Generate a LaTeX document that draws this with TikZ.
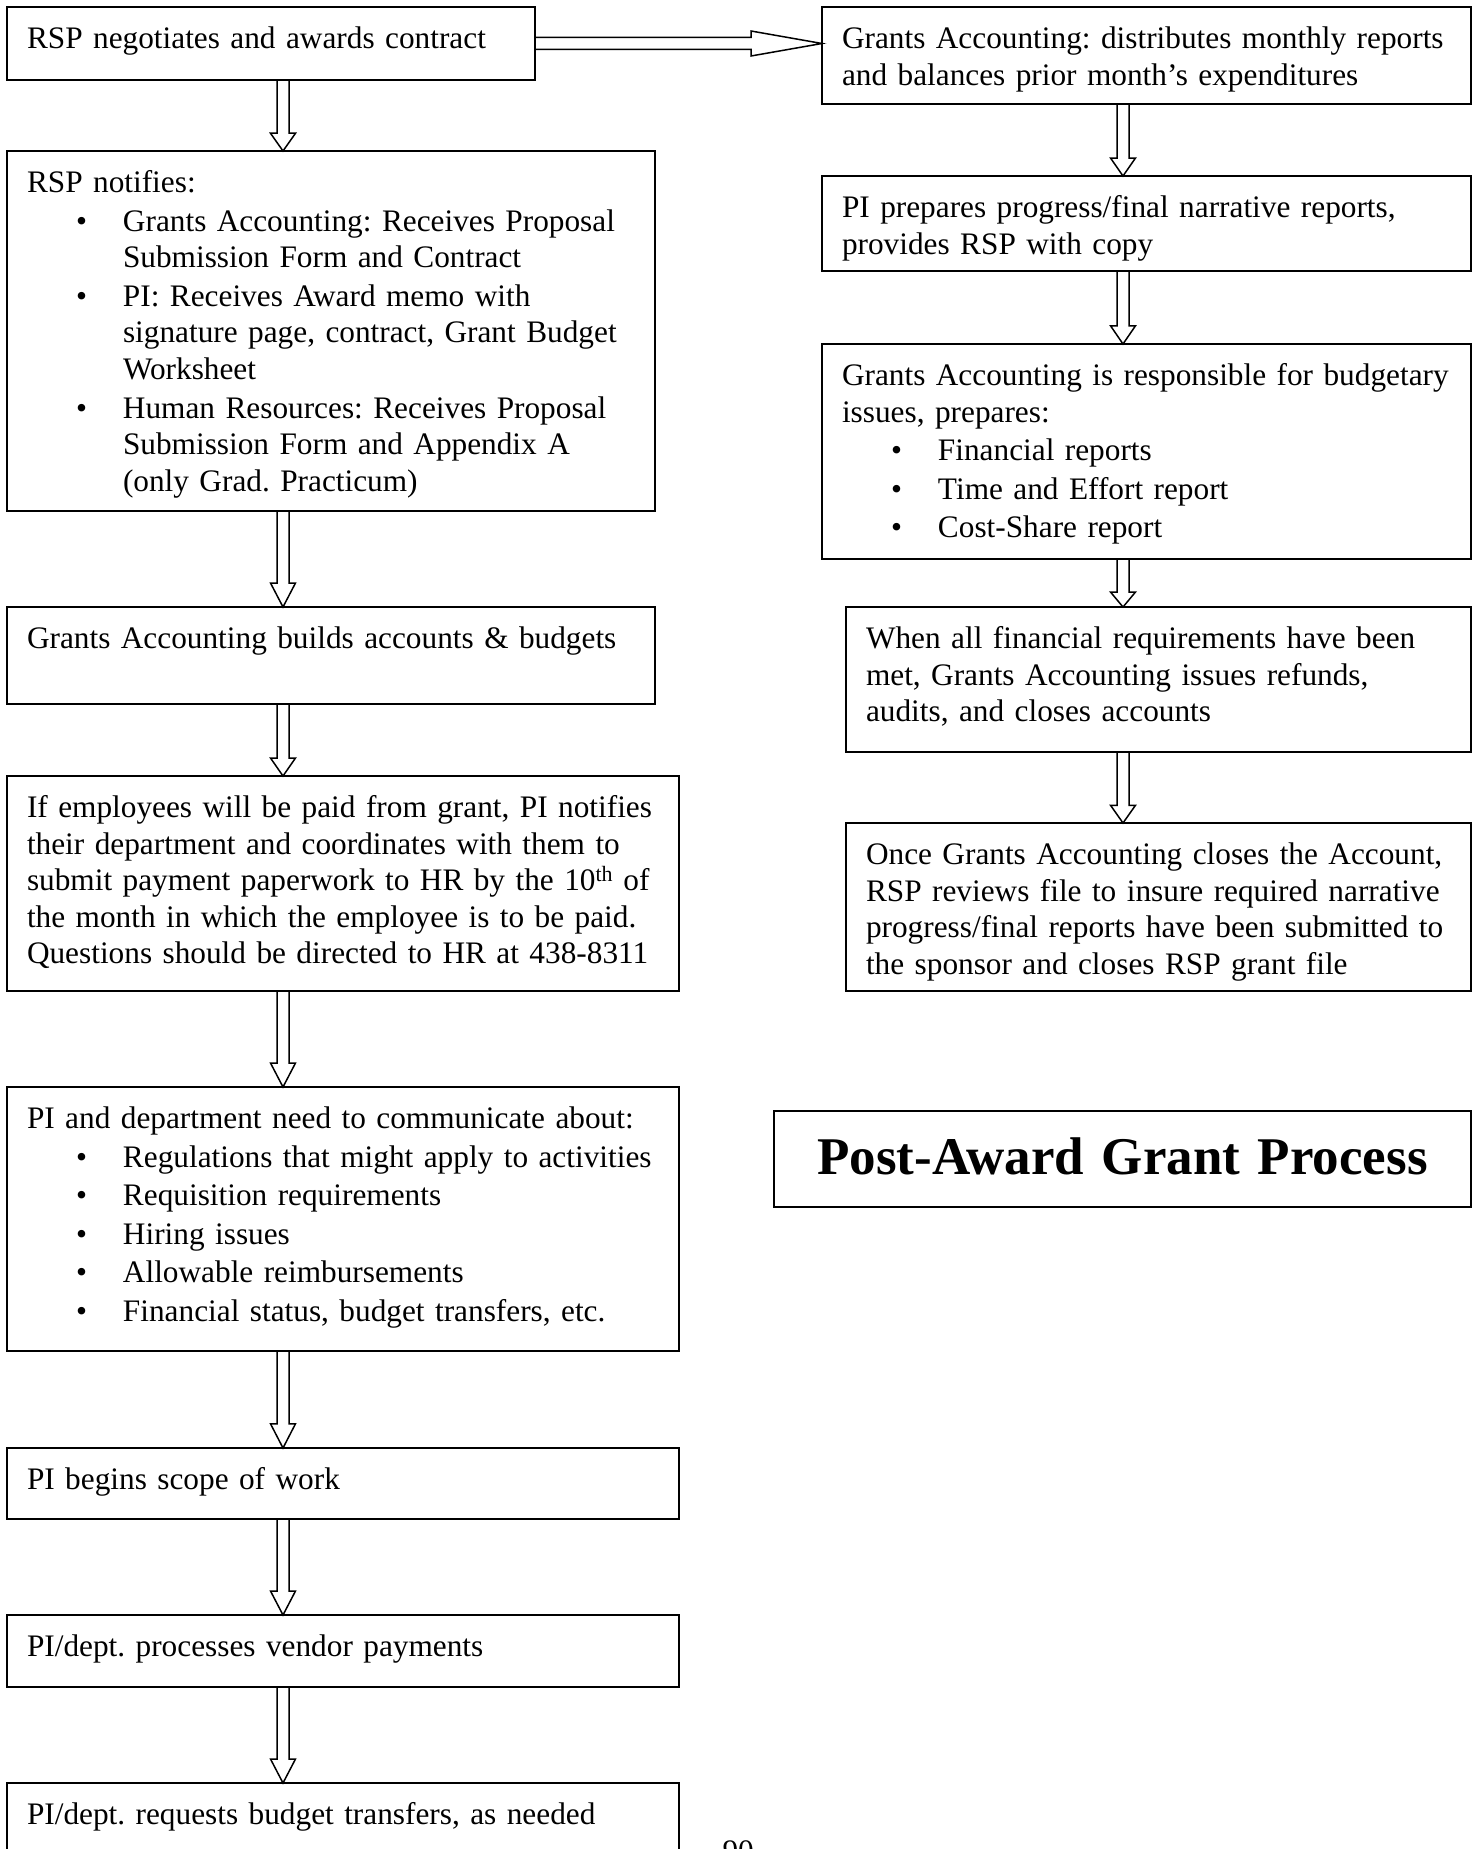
\documentclass[tikz,border=0pt]{standalone}
\usepackage{fontspec}
\setmainfont{Liberation Serif}
\usetikzlibrary{calc}
\setlength{\parindent}{0pt}
\frenchspacing
\newcommand{\bul}{\par\vspace{2pt}\hangindent=96pt\noindent\hbox to 96pt{\hskip 49pt\textbullet\hfil}}
\tikzstyle{bx}=[draw,line width=1.8pt,anchor=north west,outer sep=0pt,
  inner xsep=10pt,inner ysep=0pt,align=left,text height=41.5pt,
  font=\fontsize{31.3}{36.6}\selectfont,
  execute at begin node={\leftskip=10pt\hyphenpenalty=10000}]
\tikzstyle{ttl}=[draw,line width=1.8pt,anchor=north west,outer sep=0pt,
  inner xsep=20pt,inner ysep=0pt,align=center,text height=63pt,
  font=\fontsize{53}{60}\selectfont\bfseries]
\tikzstyle{dn}=[draw,line width=1.5pt,to path={let \p1=(\tikztostart),\p2=(\tikztotarget),
  \n1={max(15,0.25*(\y1-\y2))} in
  (\x1-6pt,\y1) -- (\x1-6pt,\y2+\n1) -- (\x1-12.5pt,\y2+\n1) -- (\x1,\y2)
  -- (\x1+12.5pt,\y2+\n1) -- (\x1+6pt,\y2+\n1) -- (\x1+6pt,\y1)}]
\tikzstyle{rt}=[draw,line width=1.5pt,to path={let \p1=(\tikztostart),\p2=(\tikztotarget) in
  (\x1,\y1+6pt) -- (\x2-71pt,\y1+6pt) -- (\x2-71pt,\y1+12.5pt) -- (\x2,\y1)
  -- (\x2-71pt,\y1-12.5pt) -- (\x2-71pt,\y1-6pt) -- (\x1,\y1-6pt)}]
\tikzstyle{none}=[]

\begin{document}
\begin{tikzpicture}[x=1pt,y=-1pt]
            \useasboundingbox (0,0) rectangle (1477,1849);
            \clip (0,0) rectangle (1477,1849);
            \coordinate (lx) at (283,0);
            \coordinate (rx) at (1123,0);
            \node [style=bx, text width=508pt, text depth=31.5pt] (0) at (7, 7) {RSP negotiates and awards contract};
            \node [style=bx, text width=628pt, text depth=318.5pt] (1) at (7, 151) {RSP notifies:
              \bul Grants Accounting: Receives Proposal\newline Submission Form and Contract
              \bul PI: Receives Award memo with\newline signature page, contract, Grant Budget\newline Worksheet
              \bul Human Resources: Receives Proposal\newline Submission Form and Appendix A\newline (only Grad. Practicum)\par};
            \node [style=bx, text width=628pt, text depth=55.5pt] (2) at (7, 607) {Grants Accounting builds accounts \& budgets};
            \node [style=bx, text width=652pt, text depth=173.5pt] (3) at (7, 776) {If employees will be paid from grant, PI notifies\\their department and coordinates with them to\\submit payment paperwork to HR by the 10\textsuperscript{th} of\\the month in which the employee is to be paid.\\Questions should be directed to HR at 438-8311};
            \node [style=bx, text width=652pt, text depth=222.5pt] (4) at (7, 1087) {PI and department need to communicate about:
              \bul Regulations that might apply to activities
              \bul Requisition requirements
              \bul Hiring issues
              \bul Allowable reimbursements
              \bul Financial status, budget transfers, etc.\par};
            \node [style=bx, text width=652pt, text depth=29.5pt] (5) at (7, 1448) {PI begins scope of work};
            \node [style=bx, text width=652pt, text depth=30.5pt] (6) at (7, 1615) {PI/dept. processes vendor payments};
            \node [style=bx, text width=652pt, text depth=58.5pt] (7) at (7, 1783) {PI/dept. requests budget transfers, as needed};
            \node [style=bx, text width=629pt, text depth=55.5pt] (8) at (822, 7) {Grants Accounting: distributes monthly reports\\and balances prior month’s expenditures};
            \node [style=bx, text width=629pt, text depth=53.5pt] (9) at (822, 176) {PI prepares progress/final narrative reports,\\provides RSP with copy};
            \node [style=bx, text width=629pt, text depth=173.5pt] (10) at (822, 344) {Grants Accounting is responsible for budgetary\\issues, prepares:
              \bul Financial reports
              \bul Time and Effort report
              \bul Cost-Share report\par};
            \node [style=bx, text width=605pt, text depth=103.5pt] (11) at (846, 607) {When all financial requirements have been\\met, Grants Accounting issues refunds,\\audits, and closes accounts};
            \node [style=bx, text width=605pt, text depth=126.5pt] (12) at (846, 823) {Once Grants Accounting closes the Account,\\RSP reviews file to insure required narrative\\progress/final reports have been submitted to\\the sponsor and closes RSP grant file};
            \node [style=ttl, text width=657pt, text depth=33pt] (13) at (774, 1111) {Post-Award Grant Process};
            \node [style=none, anchor=base west, font=\fontsize{31.3}{36.6}\selectfont] (14) at (719, 1861) {90};
            \draw [style=rt] (0.east) to (8.west);
            \draw [style=dn] (0.south -| lx) to (1.north);
            \draw [style=dn] (1.south -| lx) to (2.north);
            \draw [style=dn] (2.south -| lx) to (3.north);
            \draw [style=dn] (3.south -| lx) to (4.north);
            \draw [style=dn] (4.south -| lx) to (5.north);
            \draw [style=dn] (5.south -| lx) to (6.north);
            \draw [style=dn] (6.south -| lx) to (7.north);
            \draw [style=dn] (8.south -| rx) to (9.north);
            \draw [style=dn] (9.south -| rx) to (10.north);
            \draw [style=dn] (10.south -| rx) to (11.north);
            \draw [style=dn] (11.south -| rx) to (12.north);
    \end{tikzpicture}
\end{document}
